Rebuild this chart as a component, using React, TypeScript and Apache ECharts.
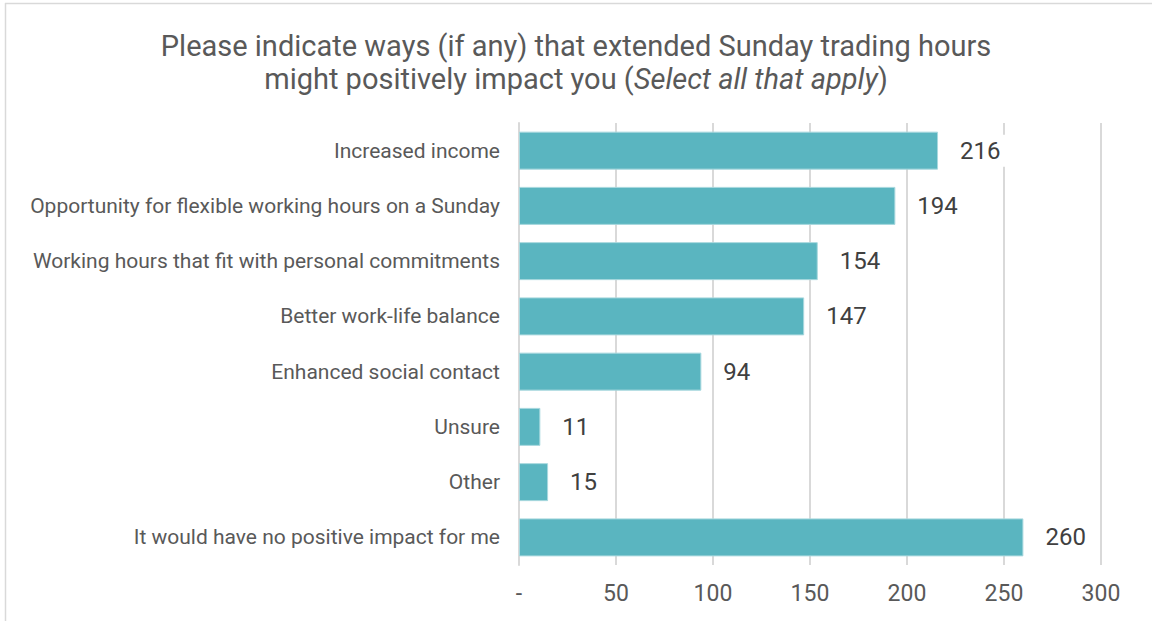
import React, { useEffect, useRef } from "react";
import * as echarts from "echarts";

const categories = [
  "Increased income",
  "Opportunity for flexible working hours on a Sunday",
  "Working hours that fit with personal commitments",
  "Better work-life balance",
  "Enhanced social contact",
  "Unsure",
  "Other",
  "It would have no positive impact for me",
];
const values = [216, 194, 154, 147, 94, 11, 15, 260];
const titleLine1 = "Please indicate ways (if any) that extended Sunday trading hours";
const titleLine2a = "might positively impact you (";
const titleItalic = "Select all that apply";
const titleLine2b = ")";

export default function App() {
  const ref = useRef<HTMLDivElement>(null);
  useEffect(() => {
    if (!ref.current) return;
    const chart = echarts.init(ref.current, null, { renderer: "svg" });
    chart.setOption({
      animation: false,
      backgroundColor: "#ffffff",
      title: {
        left: "center",
        top: 24,
        text: `{a|${titleLine1}}\n{a|${titleLine2a}}{i|${titleItalic}}{a|${titleLine2b}}`,
        textStyle: {
          fontWeight: "normal",
          rich: {
            a: { fontFamily: "Roboto", fontSize: 29, fontWeight: "normal", color: "#595959", lineHeight: 33 },
            i: { fontFamily: "Roboto", fontSize: 29, fontWeight: "normal", fontStyle: "italic", color: "#595959", lineHeight: 33 },
          },
        },
      },
      graphic: [
        { type: "line", shape: { x1: 5, y1: 3.5, x2: 1152, y2: 3.5 }, style: { stroke: "#d9d9d9", lineWidth: 1.5 } },
        { type: "line", shape: { x1: 5.5, y1: 3, x2: 5.5, y2: 621 }, style: { stroke: "#d9d9d9", lineWidth: 1.5 } },
      ],
      grid: { left: 519, right: 51, top: 123, bottom: 56 },
      xAxis: {
        type: "value",
        min: 0,
        max: 300,
        interval: 50,
        axisLine: { show: false },
        axisTick: { show: false },
        splitLine: { lineStyle: { color: "#d9d9d9", width: 2 } },
        axisLabel: {
          fontFamily: "Roboto",
          fontSize: 23,
          color: "#595959",
          margin: 17,
          formatter: (v: number) => (v === 0 ? "-" : String(v)),
        },
      },
      yAxis: {
        type: "category",
        data: categories,
        inverse: true,
        axisLine: { show: true, lineStyle: { color: "#d9d9d9", width: 2 } },
        axisTick: { show: false },
        axisLabel: {
          fontFamily: "Roboto",
          fontSize: 21,
          color: "#595959",
          margin: 19,
        },
      },
      series: [
        {
          type: "bar",
          data: values,
          barWidth: 38,
          itemStyle: { color: "#5ab5c0", borderColor: "#a8d8de", borderWidth: 1 },
          label: {
            show: true,
            position: "right",
            distance: 14,
            fontFamily: "Roboto",
            fontSize: 24,
            color: "#404040",
            backgroundColor: "#ffffff",
            padding: [4, 8],
          },
        },
      ],
    });
    return () => chart.dispose();
  }, []);
  return (
    <div
      ref={ref}
      style={{ position: "fixed", left: 0, top: 0, width: 1152, height: 621 }}
    />
  );
}
